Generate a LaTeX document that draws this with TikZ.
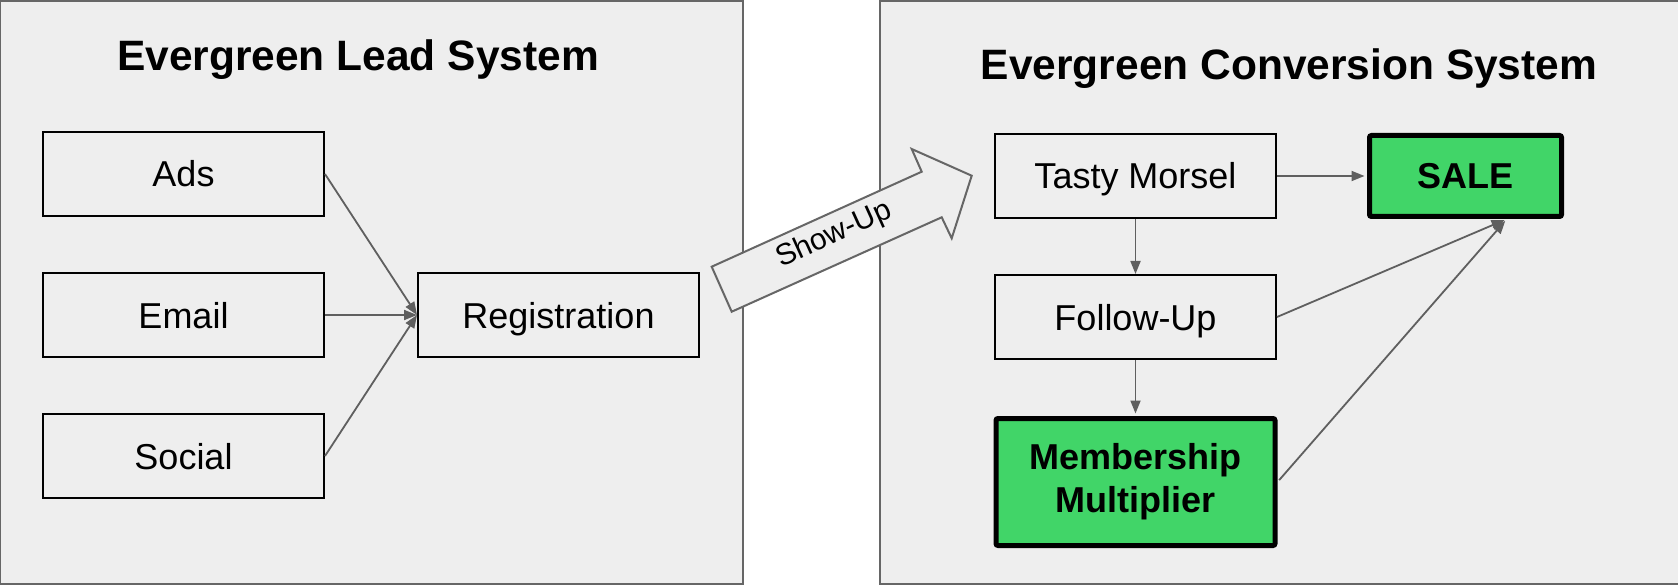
\documentclass[tikz,border=0pt]{standalone}
\usepackage{fontspec}
\setmainfont{Liberation Sans}
\usetikzlibrary{arrows.meta,calc}
\definecolor{panelfill}{HTML}{EEEEEE}
\definecolor{panelline}{HTML}{666666}
\definecolor{conncol}{HTML}{5F5F5F}
\definecolor{salegreen}{HTML}{41D568}
\begin{document}
\begin{tikzpicture}[x=1pt,y=-1pt,
  panel/.style={draw=panelline,line width=2pt,fill=panelfill},
  box/.style={draw=black,line width=2pt,fill=panelfill,inner sep=0pt,
    text height=26pt,text depth=0pt,
    minimum width=281pt,minimum height=84pt,font=\fontsize{36}{42}\selectfont},
  greenbox/.style={draw=black,line width=5pt,fill=salegreen,rounded corners=2pt,
    inner sep=0pt,align=center,font=\fontsize{36}{43}\selectfont\bfseries},
  title/.style={anchor=base,font=\fontsize{42.5}{50}\selectfont\bfseries},
  link/.style={draw=conncol,line width=1.8pt,-{Triangle[length=13pt,width=10pt]}}]
\useasboundingbox (0,0) rectangle (1678,585);
\fill[white] (0,0) rectangle (1678,585);
% panels
\draw[panel] (0,1.5) rectangle (743,584);
\draw[panel] (880,1.5) rectangle (1690,584);
% titles
\node[title] (t1) at (358,70.5) {Evergreen Lead System};
\node[title] (t2) at (1289,80) {Evergreen Conversion System};
% show-up arrow
\draw[panel] (731.7,311.7) -- (711.7,266.7) -- (921.7,171.7) -- (911.7,149)
  -- (971.7,175.7) -- (951.7,238.3) -- (941.7,217.3) -- cycle;
\node[rotate=24.4,font=\fontsize{30}{34}\selectfont] (show) at (834,235) {Show-Up};
% left boxes
\node[box] (ads) at (183.5,174) {Ads};
\node[box] (email) at (183.5,315) {Email};
\node[box] (social) at (183.5,456) {Social};
\node[box] (reg) at (558.5,315) {Registration};
% right boxes
\node[box] (tasty) at (1135.5,176) {Tasty Morsel};
\node[box] (follow) at (1135.5,317) {Follow-Up};
\node[greenbox,minimum width=279pt,minimum height=127pt] (member) at (1135.5,482) {Membership\\Multiplier};
\node[greenbox,minimum width=192pt,minimum height=81pt] (sale) at (1465.5,176) {SALE};
\coordinate (saleIn) at ($(sale.south west)!0.71!(sale.south east)$);
% links
\draw[link] (ads.east) -- (reg.west);
\draw[link] (email.east) -- (reg.west);
\draw[link] (social.east) -- (reg.west);
\draw[link,shorten >=2.5pt] (tasty.east) -- (sale.west);
\draw[link] (tasty.south) -- (follow.north);
\draw[link,shorten >=2.5pt] (follow.south) -- (member.north);
\draw[link,shorten >=2.5pt] (follow.east) -- (saleIn);
\draw[link,shorten >=2.5pt,shorten <=2.5pt] (member.east) -- (saleIn);
\end{tikzpicture}
\end{document}
